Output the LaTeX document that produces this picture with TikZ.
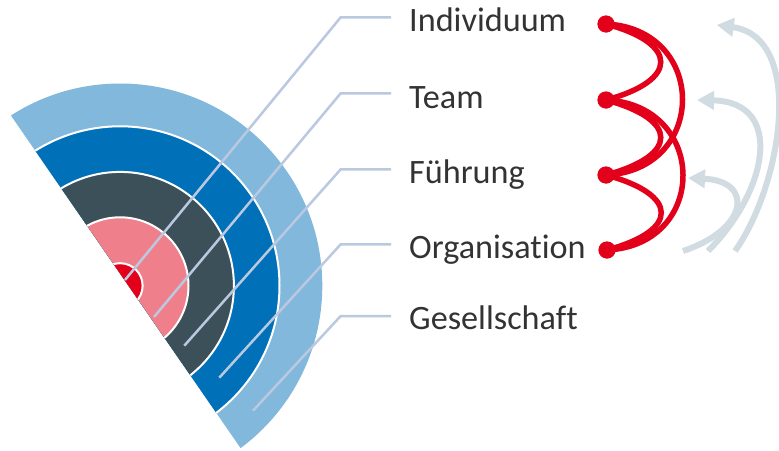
\documentclass[tikz,border=0pt]{standalone}
\usepackage{fontspec}
\setmainfont{Carlito}[Ligatures=NoCommon]
\usetikzlibrary{arrows.meta}
\definecolor{ringA}{RGB}{130,184,220}
\definecolor{ringB}{RGB}{0,112,184}
\definecolor{ringC}{RGB}{60,80,90}
\definecolor{ringD}{RGB}{239,128,139}
\definecolor{ringE}{RGB}{226,0,26}
\definecolor{leader}{RGB}{186,200,224}
\definecolor{arrowgray}{RGB}{208,220,226}
\definecolor{txt}{RGB}{51,51,51}
\tikzset{
  lbl/.style={anchor=base west, inner sep=0pt, text=txt,
              font=\fontsize{34.2}{40}\selectfont},
  leaderline/.style={draw=leader, line width=2.5pt},
  ringsep/.style={draw=white, line width=2pt},
  reddot/.style={circle, fill=ringE, minimum size=17pt, inner sep=0pt},
  redlink/.style={draw=ringE, line width=5.5pt},
  backarrow/.style={draw=arrowgray, line width=6pt,
                    -{Triangle[length=17pt,width=18pt]}}
}
\begin{document}
\begin{tikzpicture}[x=1pt,y=-1pt]
\useasboundingbox (0,0) rectangle (779,450);

% concentric rings, cut along a slanted straight edge
\coordinate (C) at (120.1,285.7);
\begin{scope}
  \clip (-102.6,-48.9) -- (269.1,489.4) -- (700,489.4) -- (700,-48.9) -- cycle;
  \fill[ringA] (C) circle[radius=202.2];
  \filldraw[fill=ringB, ringsep] (C) circle[radius=159.4];
  \filldraw[fill=ringC, ringsep] (C) circle[radius=113.8];
  \filldraw[fill=ringD, ringsep] (C) circle[radius=68.4];
  \filldraw[fill=ringE, ringsep] (C) circle[radius=22.5];
\end{scope}

% labels
\node[lbl] (tInd) at (409,31.7)  {Individuum};
\node[lbl] (tTeam) at (409,108.3) {Team};
\node[lbl] (tFue) at (409,183.3) {Führung};
\node[lbl] (tOrg) at (409,258.3) {Organisation};
\node[lbl] (tGes) at (409,329)   {Gesellschaft};

% leader lines from the labels into the rings
\coordinate (l1a) at (391,17.3);  \coordinate (l1b) at (340.7,17.3);  \coordinate (l1c) at (125,280);
\coordinate (l2a) at (391,93.3);  \coordinate (l2b) at (340.7,93.3);  \coordinate (l2c) at (154,317);
\coordinate (l3a) at (391,169.3); \coordinate (l3b) at (340.7,169.3); \coordinate (l3c) at (184.3,345.7);
\coordinate (l4a) at (391,244.3); \coordinate (l4b) at (340.7,244.3); \coordinate (l4c) at (219.3,377.7);
\coordinate (l5a) at (391,316);   \coordinate (l5b) at (340.7,316);   \coordinate (l5c) at (253,410.7);
\foreach \i in {1,...,5}
  \draw[leaderline] (l\i a) -- (l\i b) -- (l\i c);

% red dots and links
\node[reddot] (d1) at (606,24) {};
\node[reddot] (d2) at (606,100) {};
\node[reddot] (d3) at (606,175) {};
\node[reddot] (d4) at (607,250) {};
\begin{scope}[redlink]
  \draw (d1.center) .. controls +(73,19.6) and +(73,-19.6) .. (d2.center);
  \draw (d2.center) .. controls +(73,19.6) and +(73,-19.6) .. (d3.center);
  \draw (d3.center) .. controls +(73,19.6) and +(73,-19.6) .. (d4.center);
  \draw (d1.center) .. controls +(102,5) and +(102,-5) .. (d3.center);
  \draw (d2.center) .. controls +(102,5) and +(102,-5) .. (d4.center);
\end{scope}
\node[reddot] at (d1) {};
\node[reddot] at (d2) {};
\node[reddot] at (d3) {};
\node[reddot] at (d4) {};

% light return arrows
\coordinate (a1s) at (683,251);   \coordinate (a1e) at (688,178);
\coordinate (a2s) at (708,251);   \coordinate (a2e) at (697,100);
\coordinate (a3s) at (735,251);   \coordinate (a3e) at (716.7,25);
\draw[backarrow] (a1s) .. controls +(66,-22) and +(66,3) .. (a1e);
\draw[backarrow] (a2s) .. controls +(60,-60) and +(88,2) .. (a2e);
\draw[backarrow] (a3s) .. controls +(47,-66) and +(89,12) .. (a3e);
\end{tikzpicture}
\end{document}
